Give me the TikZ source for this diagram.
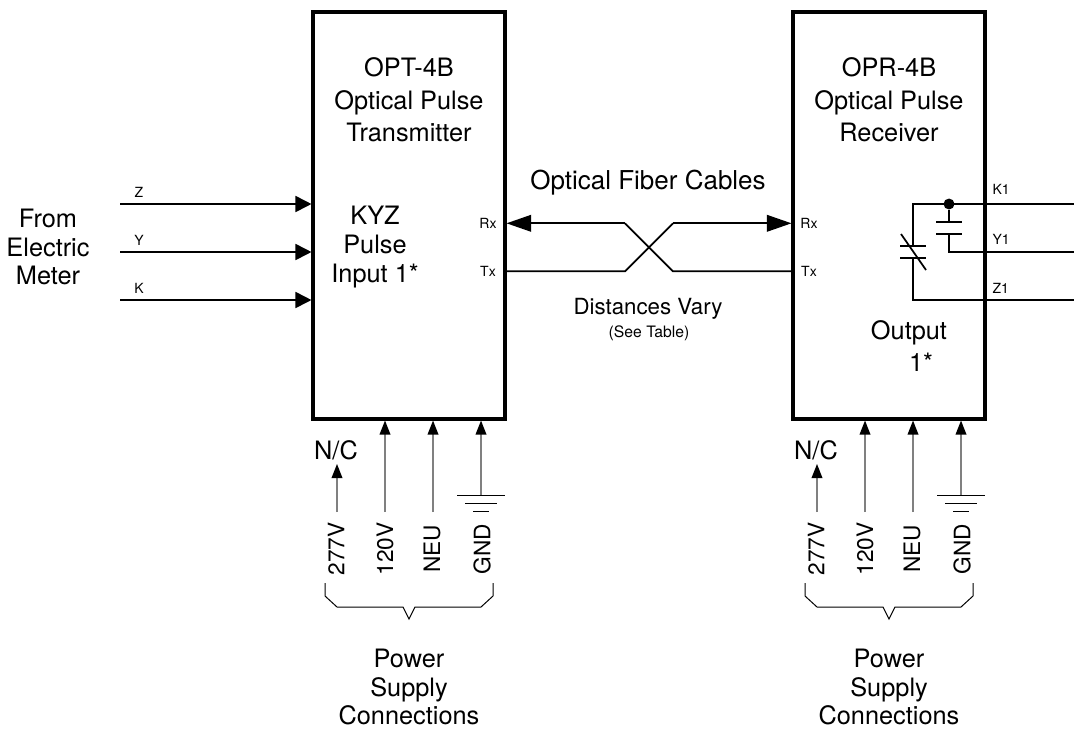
\documentclass[tikz,border=0pt]{standalone}
\usepackage{fontspec}
\setmainfont{TeX Gyre Heros}
\usetikzlibrary{arrows.meta}

\tikzset{every picture/.style={line width=0.75pt}}
\tikzset{
  unitbox/.style={draw,line width=2.3pt,inner sep=0pt,minimum width=144pt,minimum height=305.25pt},
  bigtxt/.style={inner sep=0pt,align=center,font=\fontsize{19}{21.6}\selectfont},
  nametxt/.style={inner sep=0pt,align=center,font=\fontsize{19}{24.4}\selectfont},
  sidetxt/.style={inner sep=0pt,rotate=90,font=\fontsize{17}{20}\selectfont},
  pintxt/.style={inner sep=0pt,font=\fontsize{10.5}{12}\selectfont},
  wire/.style={line width=1.3pt},
  fibertip/.style={-{Triangle[length=18.5pt,width=12.5pt]}},
  metertip/.style={-{Triangle[length=12pt,width=12pt]}},
  feedline/.style={line width=1pt,draw=black!50,-{Triangle[length=10.5pt,width=8pt,color=black]}},
}

\begin{document}
\begin{tikzpicture}[x=0.75pt,y=0.75pt,yscale=-1,xscale=1]
        \useasboundingbox (0,0) rectangle (1074,729);

        % Boxes
        \node [unitbox] (txbox) at (409,215.5) {};
        \node [unitbox] (rxbox) at (889,215.5) {};

        % Text Node
        \node [nametxt] (txname) at (409,100) {OPT-4B\\Optical Pulse\\Transmitter};
        \node [nametxt] (rxname) at (889,100) {OPR-4B\\Optical Pulse\\Receiver};
        \node [bigtxt] (kyzname) at (375,247) {KYZ\\Pulse\\Input 1*};
        \node [bigtxt] (meter) at (48,247) {From\\Electric\\Meter};
        \node [bigtxt] at (909,333) (outname) {Output};
        \node [bigtxt] at (921,362) (outnum) {1*};
        \node [inner sep=0pt,font=\fontsize{19.5}{22}\selectfont] (fibername) at (648,183) {Optical Fiber Cables};
        \node [inner sep=0pt,font=\fontsize{16.7}{20}\selectfont] (distname) at (648,309) {Distances Vary};
        \node [inner sep=0pt,font=\fontsize{11.8}{14}\selectfont] (tablename) at (649,333) {(See Table)};

        % Meter inputs
        \coordinate (zin) at (120,204);
        \coordinate (yin) at (120,252);
        \coordinate (kin) at (120,300);
        \draw [wire,metertip] (zin) -- (zin -| txbox.west);
        \draw [wire,metertip] (yin) -- (yin -| txbox.west);
        \draw [wire,metertip] (kin) -- (kin -| txbox.west);
        \node [pintxt] (zlab) at (139,192) {Z};
        \node [pintxt] (ylab) at (139,240) {Y};
        \node [pintxt] (klab) at (139,288) {K};

        % Fiber cables
        \node [pintxt] (txrx) at (488,223) {Rx};
        \node [pintxt] (txtx) at (488,271) {Tx};
        \node [pintxt] (rxrx) at (809,223) {Rx};
        \node [pintxt] (rxtx) at (809,271) {Tx};
        \coordinate (rxrow) at (625,223.3);
        \coordinate (txrow) at (625,271.3);
        \coordinate (rxrowb) at (673,223.3);
        \coordinate (txrowb) at (673,271.3);
        \draw [wire,fibertip] (rxrow) -- (rxrow -| txbox.east);
        \draw [wire,fibertip] (rxrowb) -- (rxrowb -| rxbox.west);
        \draw [wire] (rxrow) -- (txrowb) -- (txrowb -| rxbox.west);
        \draw [wire] (rxrowb) -- (txrow) -- (txrow -| txbox.east);

        % Output contacts
        \node [pintxt,anchor=west] (k1lab) at (992,189) {K1};
        \node [pintxt,anchor=west] (y1lab) at (992,239) {Y1};
        \node [pintxt,anchor=west] (z1lab) at (992,288) {Z1};
        \coordinate (k1end) at (1074,204);
        \coordinate (y1end) at (1074,252);
        \coordinate (z1end) at (1074,300);
        \node [circle,fill=black,inner sep=0pt,minimum size=8.2pt] (tapdot) at (949,204) {};
        \draw [wire] (k1end) -- (913,204) -- (913,246);
        \draw [wire] (913,258) -- (913,300) -- (z1end);
        \draw [wire] (tapdot) -- (949,222);
        \draw [wire] (949,234) -- (949,252) -- (y1end);
        \draw [wire] (936,222) -- (962,222) (936,234) -- (962,234);
        \draw [wire] (900,246) -- (926,246) (900,258) -- (926,258);
        \draw [wire] (901,234) -- (926,270);

        % Power connections, same for both units
        \foreach \dx/\pfx in {0/tx,480/rx} {
          \begin{scope}[xshift=\dx*0.75pt]
            \node [bigtxt] (\pfx nc) at (336,450) {N/C};
            \node [sidetxt] (\pfx a) at (336,549) {277V};
            \node [sidetxt] (\pfx b) at (385,549) {120V};
            \node [sidetxt] (\pfx c) at (432,549) {NEU};
            \node [sidetxt] (\pfx d) at (482,549) {GND};
            \node [bigtxt] (\pfx sup) at (409,687) {Power\\Supply\\Connections};
            \coordinate (\pfx p) at (337,512);
            \coordinate (\pfx q) at (385,512);
            \coordinate (\pfx r) at (433,512);
            \coordinate (\pfx s) at (481,495);
            \draw [feedline] (\pfx p) -- (337,464);
            \draw [feedline] (\pfx q) -- (\pfx q |- \pfx box.south);
            \draw [feedline] (\pfx r) -- (\pfx r |- \pfx box.south);
            \draw [feedline] (\pfx s) -- (\pfx s |- \pfx box.south);
            \draw (457,495) -- (505,495) (465,503) -- (497,503) (473,511) -- (489,511);
            \draw (325,583) -- (325,596) -- (337,607) -- (403,607) -- (409,619) -- (415,607) -- (481,607) -- (493,596) -- (493,583);
          \end{scope}
        }
\end{tikzpicture}
\end{document}
